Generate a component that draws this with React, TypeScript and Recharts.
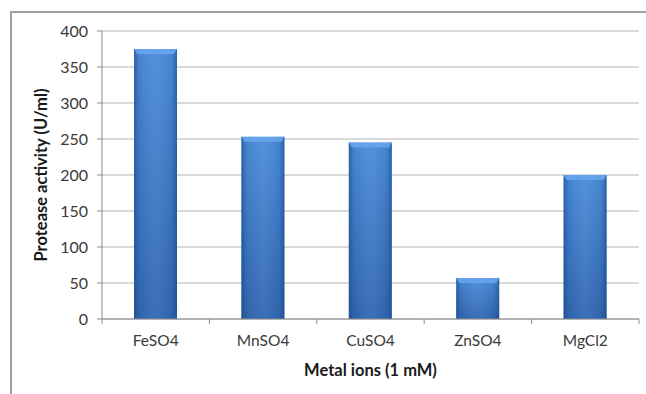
import React from 'react';
import { BarChart, Bar, XAxis, YAxis, CartesianGrid, Label } from 'recharts';

const metals = ['FeSO4', 'MnSO4', 'CuSO4', 'ZnSO4', 'MgCl2'];
const activity = [375, 253, 245, 57, 200];
const yTicks = [0, 50, 100, 150, 200, 250, 300, 350, 400];

const data = metals.map((name, i) => ({ name, activity: activity[i] }));

const FONT = 'Lato, "Open Sans", sans-serif';
const AXIS_GRAY = '#8c8c8c';
const TICK_SIZE = 5;
const TICK_MARGIN = 11;

// category labels, with the small marks drawn at the category boundaries
const MetalTick = (props: any) => {
    const { x, y, payload, index, visibleTicksCount } = props;
    const half = payload.offset ?? 0;
    const top = y - TICK_MARGIN - TICK_SIZE;
    const isLast = index === visibleTicksCount - 1;
    return (
        <g>
            <line x1={x - half} x2={x - half} y1={top} y2={top + TICK_SIZE} stroke={AXIS_GRAY} />
            {isLast && <line x1={x + half} x2={x + half} y1={top} y2={top + TICK_SIZE} stroke={AXIS_GRAY} />}
            <text x={x} y={y} dy="0.71em" textAnchor="middle" fill="#3a3a3a" fontSize={15.5} fontFamily={FONT}>
                {payload.value}
            </text>
        </g>
    );
};

// bar with a cylinder-like shading and a light bevel on top
const ShadedBar = (props: any) => {
    const { x, y, width, height } = props;
    if (!height || height <= 0) return null;
    const bevel = Math.min(5, height / 2);
    return (
        <g>
            <rect x={x} y={y} width={width} height={height} fill="url(#barBody)" />
            <rect x={x} y={y} width={width} height={height} fill="url(#barEdges)" />
            <path
                d={`M${x},${y} L${x + width},${y} L${x + width - 3},${y + bevel} L${x + 3},${y + bevel} Z`}
                fill="#6aa6ee"
                opacity={0.85}
            />
        </g>
    );
};

export default function App() {
    return (
        <div style={{ position: 'absolute', left: 0, top: 0, width: 646, height: 394, background: '#fff' }}>
            <div
                style={{
                    position: 'absolute',
                    left: 10,
                    top: 11,
                    width: 636,
                    height: 383,
                    borderTop: '2px solid #a0a0a0',
                    borderLeft: '2px solid #a0a0a0',
                    boxSizing: 'border-box',
                }}
            />
            <div style={{ position: 'absolute', left: 0, top: 0 }}>
                <BarChart
                    width={646}
                    height={394}
                    data={data}
                    margin={{ top: 31, right: 7, left: 42, bottom: 17 }}
                    barCategoryGap="30%"
                >
                    <defs>
                        <linearGradient id="barBody" x1="0" y1="0" x2="0" y2="1">
                            <stop offset="0%" stopColor="#4a8bd9" />
                            <stop offset="100%" stopColor="#2f65af" />
                        </linearGradient>
                        <linearGradient id="barEdges" x1="0" y1="0" x2="1" y2="0">
                            <stop offset="0%" stopColor="#1c4680" stopOpacity={0.6} />
                            <stop offset="12%" stopColor="#1c4680" stopOpacity={0.1} />
                            <stop offset="50%" stopColor="#ffffff" stopOpacity={0.06} />
                            <stop offset="88%" stopColor="#1c4680" stopOpacity={0.1} />
                            <stop offset="100%" stopColor="#1c4680" stopOpacity={0.6} />
                        </linearGradient>
                    </defs>
                    <CartesianGrid vertical={false} stroke="#b4b4b4" />
                    <XAxis
                        dataKey="name"
                        height={58}
                        stroke={AXIS_GRAY}
                        tickLine={false}
                        tickSize={TICK_SIZE}
                        tickMargin={TICK_MARGIN}
                        tick={<MetalTick />}
                        interval={0}
                    >
                        <Label
                            value="Metal ions (1 mM)"
                            position="insideBottom"
                            offset={1}
                            style={{ fontFamily: FONT, fontSize: 16.5, fontWeight: 700, fill: '#1a1a1a' }}
                        />
                    </XAxis>
                    <YAxis
                        width={60}
                        domain={[0, 400]}
                        ticks={yTicks}
                        interval={0}
                        stroke={AXIS_GRAY}
                        tickSize={TICK_SIZE}
                        tickMargin={9}
                        tick={{ fill: '#3a3a3a', fontSize: 16, fontFamily: FONT }}
                    >
                        <Label
                            value="Protease activity (U/ml)"
                            angle={-90}
                            position="insideLeft"
                            offset={-1}
                            style={{ textAnchor: 'middle', fontFamily: FONT, fontSize: 16.5, fontWeight: 700, fill: '#1a1a1a' }}
                        />
                    </YAxis>
                    <Bar dataKey="activity" barSize={43} shape={<ShadedBar />} isAnimationActive={false} />
                </BarChart>
            </div>
        </div>
    );
}
